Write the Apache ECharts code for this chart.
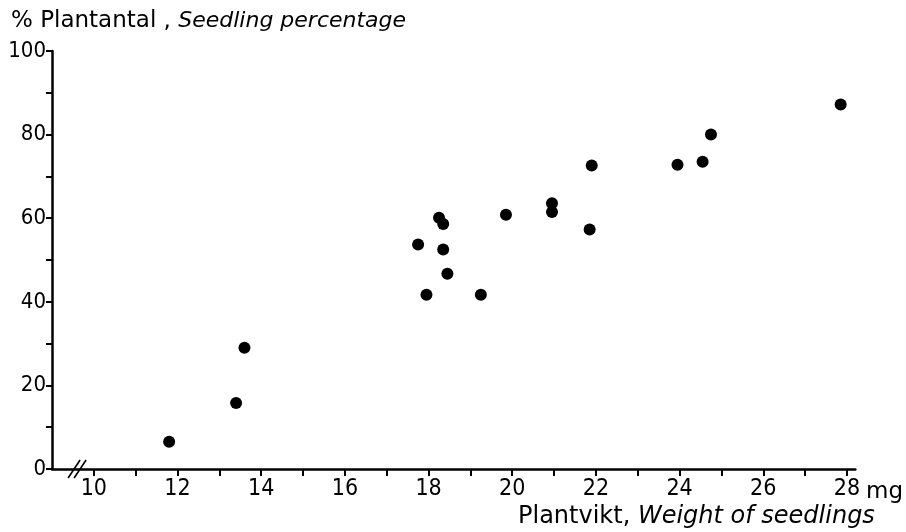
<!DOCTYPE html>
<html>
<head>
<meta charset="utf-8">
<script src="https://cdn.jsdelivr.net/npm/echarts@6/dist/echarts.min.js"></script>
<style>
  html, body { margin: 0; padding: 0; background: #fff; }
  #chart { width: 906px; height: 532px; }
</style>
</head>
<body>
<div id="chart"></div>
<script>
// seedling weight (mg) vs seedling percentage
const weight = [11.8, 13.4, 13.6, 17.75, 17.95, 18.25, 18.35, 18.35, 18.45, 19.25,
  19.85, 20.95, 20.95, 21.85, 21.9, 23.95, 24.55, 24.75, 27.85];
const percent = [6.5, 15.8, 29.0, 53.7, 41.7, 60.1, 58.6, 52.5, 46.7, 41.7,
  60.8, 63.6, 61.5, 57.3, 72.6, 72.8, 73.5, 80.0, 87.2];

const xTicks = [10, 11, 12, 13, 14, 15, 16, 17, 18, 19, 20, 21, 22, 23, 24, 25, 26, 27, 28];
const xLabels = [10, 12, 14, 16, 18, 20, 22, 24, 26, 28];
const yTicks = [0, 10, 20, 30, 40, 50, 60, 70, 80, 90, 100];
const yLabels = [0, 20, 40, 60, 80, 100];

const font = 'DejaVu Sans';
const narrow = 'DejaVu Sans Condensed, DejaVu Sans';
const chart = echarts.init(document.getElementById('chart'));

const points = weight.map((w, i) => [w, percent[i]]);

chart.setOption({
  backgroundColor: '#fff',
  animation: false,
  title: [
    {
      text: '% Plantantal , {i|Seedling percentage}',
      left: 6,
      top: 5,
      textStyle: {
        color: '#000',
        fontFamily: font,
        fontSize: 23,
        fontWeight: 'normal',
        rich: {
          i: { fontStyle: 'italic', fontSize: 22, fontFamily: font, color: '#000' }
        }
      }
    },
    {
      text: 'Plantvikt, {i|Weight of seedlings}',
      left: 513,
      top: 500,
      textStyle: {
        color: '#000',
        fontFamily: font,
        fontSize: 24,
        fontWeight: 'normal',
        rich: {
          i: { fontStyle: 'italic', fontSize: 24, fontFamily: font, color: '#000' }
        }
      }
    }
  ],
  grid: { left: 52, right: 49, top: 51, bottom: 63 },
  xAxis: {
    type: 'value',
    min: 9,
    max: 28.2,
    name: 'mg',
    nameLocation: 'end',
    nameGap: 8,
    nameTextStyle: {
      color: '#000', fontFamily: font, fontSize: 23,
      verticalAlign: 'top', padding: [12, 0, 0, 0]
    },
    splitLine: { show: false },
    axisLine: { onZero: false, lineStyle: { color: '#000', width: 2.5 } },
    axisTick: {
      customValues: xTicks, inside: false, length: 7,
      lineStyle: { color: '#000', width: 2 }
    },
    axisLabel: {
      customValues: xLabels, margin: 9,
      color: '#000', fontFamily: narrow, fontSize: 23
    }
  },
  yAxis: {
    type: 'value',
    min: 0,
    max: 100,
    splitLine: { show: false },
    axisLine: { show: true, lineStyle: { color: '#000', width: 2.5 } },
    axisTick: {
      show: true, customValues: yTicks, length: 6,
      lineStyle: { color: '#000', width: 2 }
    },
    axisLabel: {
      customValues: yLabels, margin: 6,
      color: '#000', fontFamily: narrow, fontSize: 22
    }
  },
  series: [{
    type: 'scatter',
    data: points,
    symbol: 'circle',
    symbolSize: 12,
    itemStyle: { color: '#000', opacity: 1 }
  }]
});

// axis break mark "//" near the origin, placed through the axis scale
const p = chart.convertToPixel({ gridIndex: 0 }, [9.6, 0]);
const breakLine = (dx) => ({
  type: 'line',
  shape: { x1: p[0] + dx - 6, y1: p[1] + 9, x2: p[0] + dx + 6, y2: p[1] - 9 },
  style: { stroke: '#000', lineWidth: 1.6 }
});
chart.setOption({ graphic: [breakLine(-3), breakLine(3)] });
</script>
</body>
</html>
